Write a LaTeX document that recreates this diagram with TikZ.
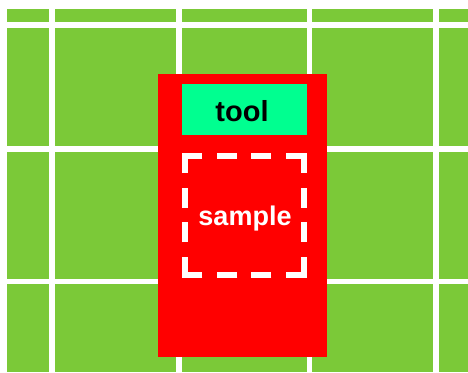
\documentclass[tikz,border=0pt]{standalone}
\usepackage{fontspec}
\setmainfont{Liberation Sans}
\definecolor{gridgreen}{RGB}{123,201,56}
\definecolor{toolgreen}{RGB}{0,255,144}
\tikzset{
  gridline/.style={white, line width=5.6pt},
  redbox/.style={fill=red, draw=none, minimum width=168.4pt, minimum height=282.7pt, inner sep=0pt},
  toolbox/.style={fill=toolgreen, draw=none, minimum width=125pt, minimum height=51pt, inner sep=0pt},
  labeltext/.style={font=\bfseries, inner sep=0pt, anchor=base},
  samplebox/.style={white, line width=6pt, line join=miter,
    dash pattern=on 20pt off 15pt on 35pt off 15pt on 20pt off 14pt}
}
\begin{document}
\begin{tikzpicture}[x=1pt, y=-1pt]
  \useasboundingbox (0,0) rectangle (468,372);
  \fill[white] (0,0) rectangle (468,372);
  \fill[gridgreen] (7,9) rectangle (468,372);
  % grid
  \foreach \gx in {52.2,178.7,309.5,436.2} {\draw[gridline] (\gx,9) -- (\gx,372);}
  \foreach \gy in {25,148.7,281.3} {\draw[gridline] (7,\gy) -- (468,\gy);}
  % red holder
  \node[redbox] (holder) at (242.5,215.35) {};
  \node[toolbox] (tool) at (244.2,109.5) {};
  \node[labeltext, font=\bfseries\fontsize{29}{30}\selectfont, text=black] (toollabel) at (242,121.7) {tool};
  % dashed sample area
  \coordinate (s0) at (251.25,155.5);
  \coordinate (s1) at (303.75,155.5);
  \coordinate (s2) at (303.75,274.5);
  \coordinate (s3) at (184.75,274.5);
  \coordinate (s4) at (184.75,155.5);
  \draw[samplebox] (s0) -- (s1) -- (s2) -- (s3) -- (s4) -- cycle;
  \node[labeltext, font=\bfseries\fontsize{27}{28}\selectfont, text=white] (sample) at (245,225.7) {sample};
\end{tikzpicture}
\end{document}
